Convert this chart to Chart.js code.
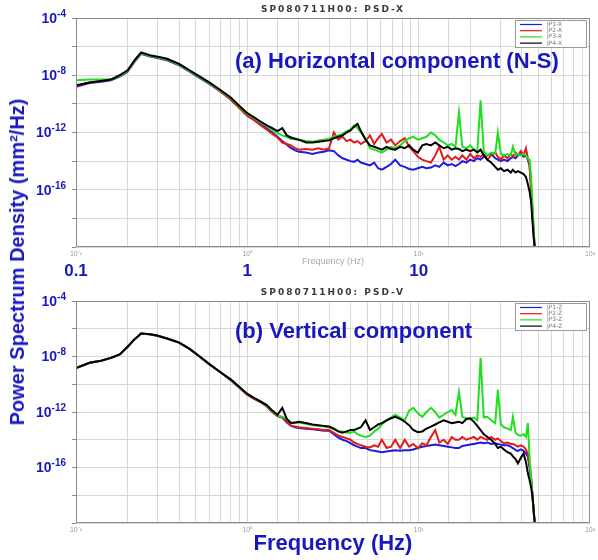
<!DOCTYPE html>
<html lang="en">
<head>
<meta charset="UTF-8">
<title>SP080711H00 PSD</title>
<script src="https://cdn.jsdelivr.net/npm/chart.js@4.4.1/dist/chart.umd.min.js"></script>
<style>
  html, body { margin: 0; padding: 0; background: #fff; }
  #page { position: relative; width: 598px; height: 560px; overflow: hidden; font-family: 'Liberation Sans', Arial, sans-serif; }
  #page canvas { position: absolute; left: 0; }
  #cvsX { top: 0; }
  #cvsV { top: 283px; }
  .cap { position: absolute; color: #1818c0; font-weight: bold; font-size: 22px; line-height: 1; white-space: nowrap; }
  #capX { left: 235px; top: 50px; }
  #capV { left: 235px; top: 320px; }
  #yTitle { position: absolute; left: 17px; top: 262px; color: #1818c0; font-weight: bold; font-size: 20px; line-height: 1;
            white-space: nowrap; transform: translate(-50%, -50%) rotate(-90deg); }
</style>
</head>
<body>
<div id="page">
  <canvas id="cvsX" width="598" height="283"></canvas>
  <canvas id="cvsV" width="598" height="277"></canvas>
  <div class="cap" id="capX">(a) Horizontal component (N-S)</div>
  <div class="cap" id="capV">(b) Vertical component</div>
  <div id="yTitle">Power Spectrum Density (mm²/Hz)</div>
</div>
<script>
// frequency grid shared by both panels (Hz)
const freqHz = [
  0.1, 0.12, 0.14, 0.16, 0.18, 0.2, 0.22, 0.24, 0.27, 0.3,
  0.34, 0.4, 0.46, 0.52, 0.6, 0.7, 0.8, 0.9, 1.0, 1.1,
  1.2, 1.3, 1.4, 1.5, 1.6, 1.7, 1.8, 1.9, 2.0, 2.2,
  2.4, 2.6, 2.8, 3.0, 3.2, 3.4, 3.6, 3.8, 4.0, 4.2,
  4.4, 4.6, 4.9, 5.2, 5.5, 5.8, 6.1, 6.5, 6.9, 7.3,
  7.8, 8.3, 8.8, 9.3, 9.9, 10.5, 11.1, 11.8, 12.5, 13.2,
  14.0, 14.8, 15.6, 16.4, 17.2, 18.0, 19.0, 20.0, 21.0, 22.0,
  23.0, 24.0, 25.2, 26.5, 28.0, 29.0, 30.2, 31.5, 33.0, 34.5,
  35.5, 36.8, 38.0, 39.5, 41.0, 42.3, 43.4, 44.4, 45.3, 46.2,
  47.0, 47.6
];

// PSD as log10(mm^2/Hz) -- horizontal (N-S)
const psdX_JP1 = [
  -8.8, -8.55, -8.45, -8.35, -8.1, -7.75, -7.05, -6.5, -6.7, -6.8,
  -6.95, -7.3, -7.75, -8.15, -8.6, -9.15, -9.7, -10.25, -10.8, -11.1,
  -11.45, -11.7, -12.0, -12.3, -12.6, -12.85, -13.1, -13.25, -13.35, -13.4,
  -13.5, -13.4, -13.35, -13.25, -13.3, -13.6, -13.8, -13.9, -14.0, -14.05,
  -13.9, -14.1, -14.2, -14.3, -14.1, -14.5, -14.6, -14.4, -14.2, -13.9,
  -14.3, -14.4, -14.55, -14.6, -14.5, -14.4, -14.5, -14.45, -14.3, -14.4,
  -14.1, -14.3, -14.2, -14.35, -14.2, -14.0, -14.1, -13.9, -14.0, -13.8,
  -13.9, -13.7, -13.6, -13.5, -13.8, -13.9, -14.0, -13.9, -14.0, -13.8,
  -13.7, -13.8, -13.6, -13.5, -13.7, -13.6, -13.9, -14.3, -15.6, -17.6,
  -19.0, -20
];
const psdX_JP2 = [
  -8.75, -8.5, -8.4, -8.3, -8.05, -7.7, -7.0, -6.45, -6.65, -6.75,
  -6.9, -7.25, -7.7, -8.1, -8.55, -9.15, -9.7, -10.3, -10.85, -11.15,
  -11.5, -11.8, -12.1, -12.35, -12.7, -12.8, -12.9, -13.1, -13.2, -13.15,
  -13.2, -13.1, -13.2, -13.1, -12.0, -12.5, -12.3, -12.6, -12.5, -12.7,
  -12.6, -12.8, -12.6, -12.2, -12.8, -12.4, -12.1, -12.7, -12.5, -12.9,
  -12.6, -12.4, -13.0, -13.3, -13.7, -13.9, -14.0, -14.1, -13.6, -13.0,
  -13.9, -13.6, -13.9, -13.7, -13.9, -13.6, -13.9, -13.5, -13.8, -13.6,
  -13.7, -13.5, -13.9, -13.6, -13.4, -13.7, -13.9, -13.6, -13.8, -13.5,
  -13.7, -13.4, -13.6, -13.3, -13.6, -13.1, -13.8, -14.2, -16.0, -18.0,
  -19.3, -20
];
const psdX_JP3 = [
  -8.35, -8.3, -8.3, -8.3, -8.05, -7.7, -7.0, -6.45, -6.65, -6.75,
  -6.9, -7.25, -7.7, -8.1, -8.55, -9.1, -9.6, -10.2, -10.7, -11.0,
  -11.3, -11.55, -11.8, -12.05, -12.2, -12.3, -12.45, -12.4, -12.5, -12.6,
  -12.65, -12.55, -12.5, -12.45, -12.3, -12.2, -12.1, -11.9, -11.8, -11.5,
  -11.7, -12.0, -12.4, -13.1, -13.2, -13.3, -13.4, -13.2, -13.0, -13.1,
  -12.9, -12.6, -12.4, -12.3, -12.5, -12.4, -12.3, -12.0, -12.2, -12.5,
  -12.7, -12.9, -12.8, -13.0, -10.6, -13.0, -13.1, -12.9, -13.2, -13.3,
  -9.75, -13.3, -13.6, -13.4, -13.5, -12.0, -13.5, -13.6, -13.5, -13.6,
  -13.0, -13.6, -13.5, -13.6, -13.5, -13.6, -13.8, -13.9, -15.0, -17.0,
  -18.8, -20
];
const psdX_JP4 = [
  -8.7, -8.5, -8.4, -8.3, -8.0, -7.65, -6.95, -6.4, -6.6, -6.7,
  -6.85, -7.2, -7.65, -8.05, -8.5, -9.05, -9.55, -10.15, -10.65, -10.95,
  -11.25, -11.5, -11.7, -11.9, -11.7, -12.2, -12.35, -12.45, -12.5, -12.7,
  -12.7, -12.65, -12.6, -12.55, -12.4, -12.3, -12.2, -12.0, -11.85, -11.6,
  -11.4, -11.9, -12.5, -12.9, -13.0, -13.1, -13.2, -13.0, -13.15, -13.2,
  -13.0, -13.1, -12.9, -13.2, -13.4, -12.9, -12.8, -12.9, -12.7, -12.9,
  -13.1, -13.0, -13.2, -13.1, -13.15, -13.3, -13.2, -13.3, -13.2, -13.4,
  -13.2, -13.6, -13.9, -14.1, -14.4, -14.6, -14.5, -14.7, -14.6, -14.8,
  -14.6, -14.8, -14.7, -14.8, -14.9, -15.1, -15.6, -16.1, -16.8, -18.2,
  -19.4, -20
];

// PSD as log10(mm^2/Hz) -- vertical
const psdV_JP1 = [
  -8.83, -8.45, -8.3, -8.1, -7.85, -7.3, -6.75, -6.35, -6.4, -6.5,
  -6.7, -7.0, -7.45, -7.95, -8.55, -9.15, -9.7, -10.25, -10.75, -11.05,
  -11.3, -11.6, -12.0, -12.3, -12.4, -12.75, -13.0, -13.1, -13.15, -13.2,
  -13.25, -13.3, -13.35, -13.35, -13.6, -13.85, -14.0, -14.1, -14.25, -14.4,
  -14.5, -14.6, -14.6, -14.75, -14.8, -14.85, -14.9, -14.85, -14.8, -14.75,
  -14.8, -14.75, -14.75, -14.7, -14.6, -14.5, -14.45, -14.4, -14.35, -14.4,
  -14.45, -14.5, -14.55, -14.6, -14.6, -14.45, -14.4, -14.35, -14.3, -14.25,
  -14.2, -14.25, -14.2, -14.3, -14.25, -14.3, -14.35, -14.4, -14.4, -14.5,
  -14.6, -14.75, -14.8, -14.7, -14.8, -15.0, -15.2, -16.0, -16.8, -18.0,
  -19.2, -20
];
const psdV_JP2 = [
  -8.83, -8.45, -8.3, -8.1, -7.85, -7.3, -6.75, -6.35, -6.4, -6.5,
  -6.7, -7.0, -7.45, -7.95, -8.55, -9.15, -9.7, -10.25, -10.75, -11.05,
  -11.3, -11.6, -12.0, -12.3, -12.35, -12.7, -13.0, -13.05, -13.1, -13.15,
  -13.2, -13.25, -13.3, -13.3, -13.5, -13.7, -13.8, -13.9, -14.0, -14.2,
  -14.3, -14.4, -14.5, -14.55, -14.4, -14.5, -14.0, -14.6, -14.5, -14.0,
  -14.6, -14.0, -14.5, -14.3, -14.6, -14.25, -14.4, -13.8, -13.3, -14.2,
  -14.0, -14.3, -13.8, -14.0, -14.0, -13.8, -14.0, -13.9, -13.8, -14.0,
  -13.8, -13.9, -14.0, -13.8, -14.0, -13.9, -14.1, -14.25, -14.2, -14.3,
  -14.3, -14.4, -14.5, -14.4, -14.5, -14.7, -15.0, -15.8, -16.6, -18.0,
  -19.2, -20
];
const psdV_JP3 = [
  -8.83, -8.45, -8.3, -8.1, -7.85, -7.3, -6.75, -6.35, -6.4, -6.5,
  -6.7, -7.0, -7.45, -7.95, -8.55, -9.15, -9.65, -10.2, -10.7, -11.0,
  -11.25, -11.55, -11.95, -12.25, -12.35, -12.5, -12.75, -12.8, -12.75, -12.85,
  -12.95, -13.0, -13.05, -13.1, -13.25, -13.4, -13.4, -13.5, -13.5, -13.4,
  -13.6, -13.7, -13.8, -13.7, -13.4, -13.2, -12.9, -12.6, -12.4, -12.2,
  -12.4, -12.6, -11.9, -11.7, -12.1, -12.35, -12.0, -11.7, -12.0, -12.4,
  -12.2, -12.0, -11.85, -12.2, -10.55, -12.35, -12.45, -12.5, -12.4, -12.6,
  -8.1, -12.4, -12.35, -12.6, -12.8, -10.4, -12.9, -13.1, -13.2, -13.3,
  -12.35, -13.5, -13.65, -13.7, -13.6, -13.8, -12.8, -15.2, -16.8, -18.1,
  -19.3, -20
];
const psdV_JP4 = [
  -8.83, -8.45, -8.3, -8.1, -7.85, -7.3, -6.75, -6.35, -6.4, -6.5,
  -6.7, -7.0, -7.45, -7.95, -8.55, -9.15, -9.65, -10.2, -10.7, -11.0,
  -11.25, -11.5, -11.9, -12.2, -11.7, -12.5, -12.8, -12.75, -12.7, -12.8,
  -12.9, -12.95, -13.0, -13.05, -13.2, -13.4, -13.5, -13.4, -13.3, -13.3,
  -13.2, -13.1, -12.6, -13.3, -13.1, -12.9, -12.8, -12.6, -12.45, -12.35,
  -12.5, -12.7, -12.95, -13.3, -13.45, -13.4, -13.2, -13.05, -12.9, -12.75,
  -12.6, -12.7, -12.8, -12.75, -12.7, -12.8, -12.5, -12.45, -12.7, -13.0,
  -13.3, -13.6, -13.8, -14.0, -14.3, -14.6, -14.5, -14.7, -14.9, -15.0,
  -15.2, -15.4, -15.7, -15.3, -15.0, -15.6, -16.4, -16.9, -17.4, -18.1,
  -19.2, -20
];

const legendX = ['JP1-X', 'JP2-X', 'JP3-X', 'JP4-X'];
const legendV = ['JP1-Z', 'JP2-Z', 'JP3-Z', 'JP4-Z'];
const yLabelExps = [-4, -8, -12, -16];
const bigFreqTicks = [0.1, 1, 10];

const TEXT_BLUE = '#1818c0';
const lineColors = ['#1c1cdc', '#e31a1a', '#1ee01e', '#000000'];
const drawOrder = [3, 2, 1, 0];   // black on top

const SUP = { '-': '⁻', '0': '⁰', '1': '¹', '2': '²', '3': '³', '4': '⁴', '5': '⁵', '6': '⁶', '7': '⁷', '8': '⁸', '9': '⁹' };
const supText = n => String(n).split('').map(c => SUP[c]).join('');

// small grey title over each panel
const headPlugin = {
  id: 'psdHead',
  afterDraw(chart, args, opts) {
    const { ctx, chartArea: a } = chart;
    ctx.save();
    ctx.font = 'bold 9px "DejaVu Sans"';
    ctx.letterSpacing = '2px';
    ctx.fillStyle = '#3a3a3a';
    ctx.textAlign = 'center';
    ctx.textBaseline = 'middle';
    ctx.fillText(opts.text, (a.left + a.right) / 2, 10);
    ctx.restore();
  }
};

// box round the plot area
const framePlugin = {
  id: 'frame',
  afterDatasetsDraw(chart) {
    const { ctx, chartArea: a } = chart;
    ctx.save();
    ctx.strokeStyle = '#8c8c8c';
    ctx.lineWidth = 1;
    ctx.strokeRect(a.left + 0.5, a.top + 0.5, a.width - 1, a.height - 1);
    ctx.restore();
  }
};

// little legend box, top right
const boxLegend = {
  id: 'boxLegend',
  afterDraw(chart) {
    const { ctx, chartArea: a } = chart;
    const w = 71, h = 27, x0 = a.right - w - 4, y0 = a.top + 2;
    ctx.save();
    ctx.fillStyle = '#fff';
    ctx.fillRect(x0, y0, w, h);
    ctx.strokeStyle = '#9a9a9a';
    ctx.lineWidth = 1;
    ctx.strokeRect(x0 + 0.5, y0 + 0.5, w, h);
    ctx.font = '6px "DejaVu Sans"';
    ctx.textBaseline = 'middle';
    chart.data.datasets.forEach((ds, i) => {
      const yy = y0 + 4.5 + i * 6.2;
      ctx.strokeStyle = ds.borderColor;
      ctx.lineWidth = 1.2;
      ctx.beginPath();
      ctx.moveTo(x0 + 5, yy);
      ctx.lineTo(x0 + 27, yy);
      ctx.stroke();
      ctx.fillStyle = '#777';
      ctx.fillText(ds.label, x0 + 32, yy);
    });
    ctx.restore();
  }
};

// blue 10^n labels on the y axis
const powerTicks = {
  id: 'powerTicks',
  afterDraw(chart) {
    const { ctx, scales: { y } } = chart;
    ctx.save();
    ctx.fillStyle = TEXT_BLUE;
    ctx.textAlign = 'right';
    ctx.textBaseline = 'middle';
    yLabelExps.forEach(e => {
      const py = y.getPixelForValue(e);
      ctx.font = 'bold 10px "Liberation Sans"';
      const exp = String(e);
      const wExp = ctx.measureText(exp).width;
      ctx.fillText(exp, 66, py - 4);
      ctx.font = 'bold 14px "Liberation Sans"';
      ctx.fillText('10', 66 - wExp, py + 1);
    });
    ctx.restore();
  }
};

// big blue 0.1 / 1 / 10 under the top panel
const bigTicks = {
  id: 'bigTicks',
  afterDraw(chart, args, opts) {
    if (!opts.values || !opts.values.length) return;
    const { ctx, scales: { x } } = chart;
    ctx.save();
    ctx.fillStyle = TEXT_BLUE;
    ctx.font = 'bold 17px "Liberation Sans"';
    ctx.textAlign = 'center';
    ctx.textBaseline = 'middle';
    opts.values.forEach(v => ctx.fillText(String(v), x.getPixelForValue(v), 271));
    ctx.restore();
  }
};

function buildPanel(canvasId, series, labels, cfg) {
  const datasets = series.map((vals, i) => ({
    label: labels[i],
    data: freqHz.map((f, k) => ({ x: f, y: vals[k] })),
    borderColor: lineColors[i],
    borderWidth: 2,
    pointRadius: 0,
    tension: 0,
    order: drawOrder[i]
  }));

  return new Chart(document.getElementById(canvasId), {
    type: 'line',
    data: { datasets },
    options: {
      responsive: false,
      animation: false,
      layout: { padding: { top: 18, right: 5, left: 0, bottom: 0 } },
      plugins: {
        legend: { display: false },
        tooltip: { enabled: false },
        psdHead: { text: cfg.head },
        bigTicks: { values: cfg.bigTicks }
      },
      scales: {
        x: {
          type: 'logarithmic',
          min: 0.1,
          max: 100,
          border: { display: false },
          grid: { color: '#d8d8d8', drawTicks: false },
          ticks: {
            autoSkip: false,
            maxRotation: 0,
            padding: 3,
            color: '#9a9a9a',
            font: { size: 7 },
            callback: v => {
              const e = Math.log10(v);
              return Math.abs(e - Math.round(e)) < 1e-6 ? '10' + supText(Math.round(e)) : '';
            }
          },
          title: cfg.xTitle,
          afterFit: s => { s.height = cfg.xAxisH; }
        },
        y: {
          type: 'linear',
          min: -20,
          max: -4,
          border: { display: false },
          grid: { color: '#d8d8d8', tickLength: 4, tickColor: '#8c8c8c' },
          ticks: { stepSize: 2, display: false },
          afterFit: s => { s.width = 76; }
        }
      }
    },
    plugins: [headPlugin, framePlugin, boxLegend, powerTicks, bigTicks]
  });
}

buildPanel('cvsX', [psdX_JP1, psdX_JP2, psdX_JP3, psdX_JP4], legendX, {
  head: 'SP080711H00: PSD-X',
  bigTicks: bigFreqTicks,
  xAxisH: 36,
  xTitle: { display: true, text: 'Frequency (Hz)', color: '#a8a8a8', font: { size: 9 }, padding: { top: 0, bottom: 16 } }
});

buildPanel('cvsV', [psdV_JP1, psdV_JP2, psdV_JP3, psdV_JP4], legendV, {
  head: 'SP080711H00: PSD-V',
  bigTicks: [],
  xAxisH: 37,
  xTitle: { display: true, text: 'Frequency (Hz)', color: TEXT_BLUE, font: { size: 22, weight: 'bold', family: 'Liberation Sans' }, padding: { top: 0, bottom: 3 } }
});
</script>
</body>
</html>
